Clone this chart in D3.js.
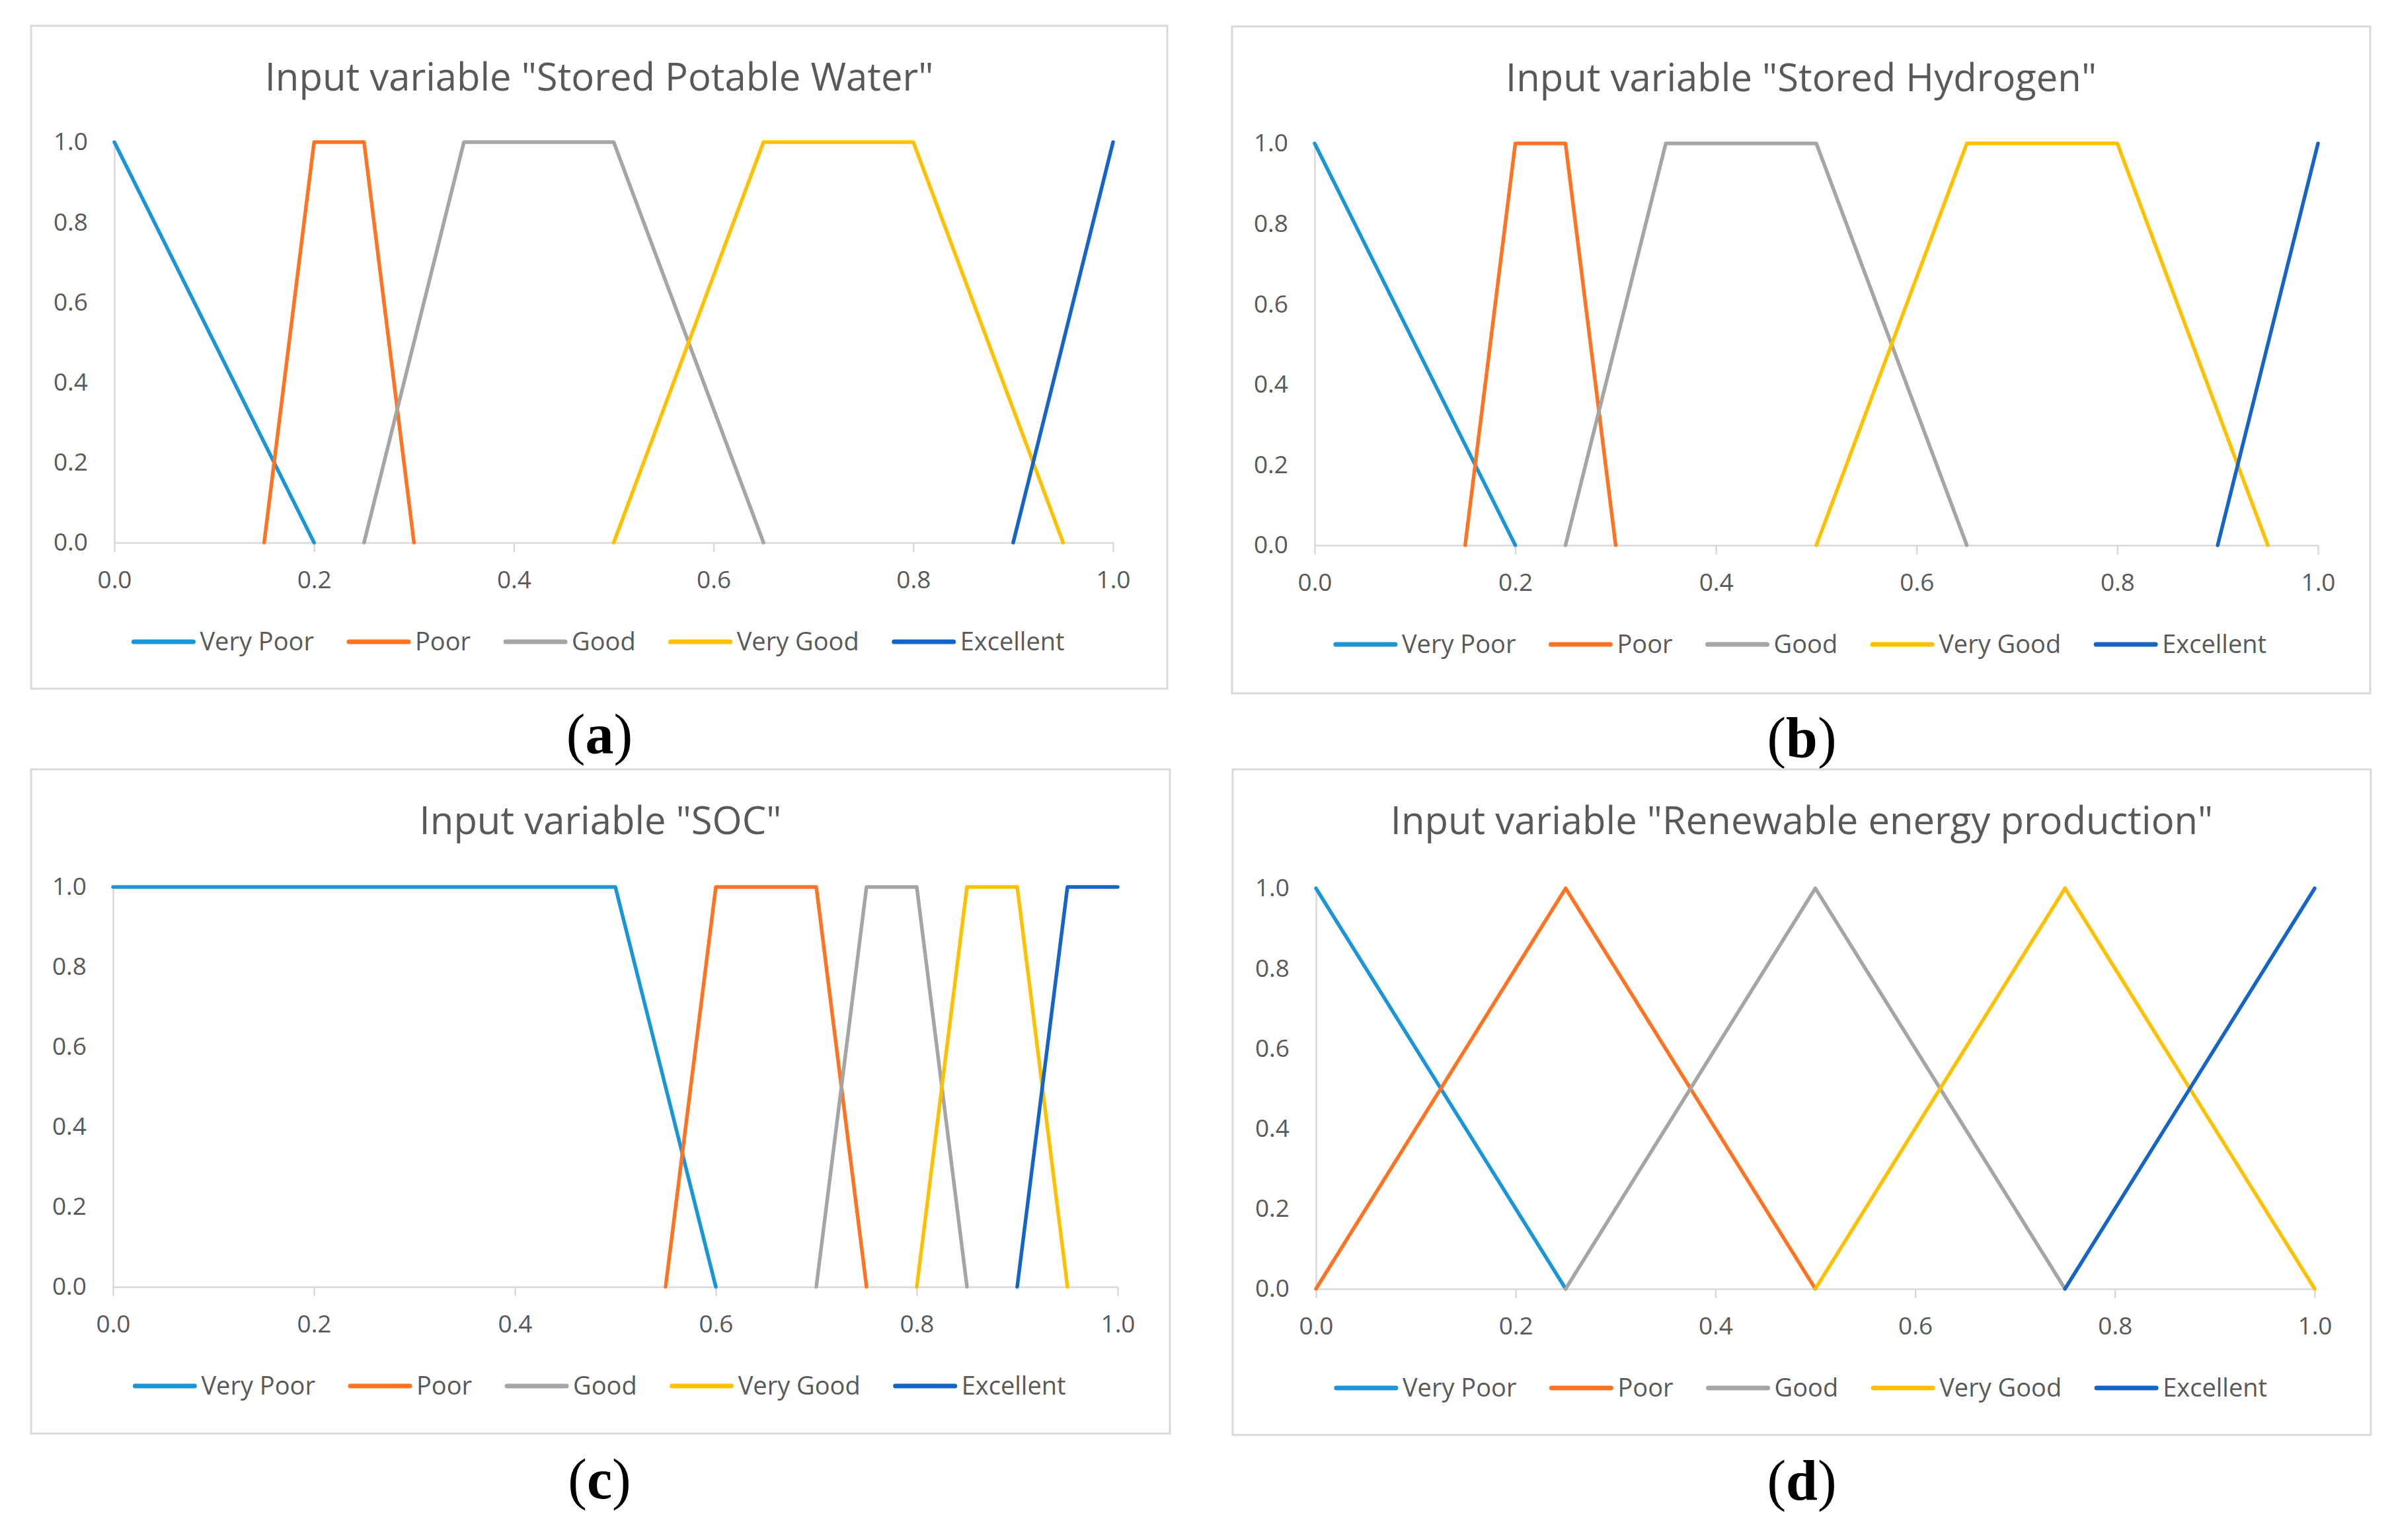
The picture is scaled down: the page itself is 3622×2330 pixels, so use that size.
<!DOCTYPE html>
<html>
<head>
<meta charset="utf-8">
<script src="https://cdn.jsdelivr.net/npm/d3@7"></script>
<style>
  html, body { margin: 0; padding: 0; background: #ffffff; }
  svg { display: block; }
</style>
</head>
<body>
<div id="chart"></div>
<script>
// ---------- data ----------
const seriesNames = ["Very Poor", "Poor", "Good", "Very Good", "Excellent"];
const seriesColors = ["#1a96d8", "#ff7322", "#a5a5a5", "#ffc000", "#1565c6"];
const xTicks = [0.0, 0.2, 0.4, 0.6, 0.8, 1.0];
const yTicks = [0.0, 0.2, 0.4, 0.6, 0.8, 1.0];
const panelTitles = [
  'Input variable "Stored Potable Water"',
  'Input variable "Stored Hydrogen"',
  'Input variable "SOC"',
  'Input variable "Renewable energy production"'
];
const panelLetters = ["a", "b", "c", "d"];

// membership functions: [x, y] pairs per series
const waterSeries = [
  [[0, 1], [0.2, 0]],
  [[0.15, 0], [0.2, 1], [0.25, 1], [0.3, 0]],
  [[0.25, 0], [0.35, 1], [0.5, 1], [0.65, 0]],
  [[0.5, 0], [0.65, 1], [0.8, 1], [0.95, 0]],
  [[0.9, 0], [1, 1]]
];
const hydrogenSeries = [
  [[0, 1], [0.2, 0]],
  [[0.15, 0], [0.2, 1], [0.25, 1], [0.3, 0]],
  [[0.25, 0], [0.35, 1], [0.5, 1], [0.65, 0]],
  [[0.5, 0], [0.65, 1], [0.8, 1], [0.95, 0]],
  [[0.9, 0], [1, 1]]
];
const socSeries = [
  [[0, 1], [0.5, 1], [0.6, 0]],
  [[0.55, 0], [0.6, 1], [0.7, 1], [0.75, 0]],
  [[0.7, 0], [0.75, 1], [0.8, 1], [0.85, 0]],
  [[0.8, 0], [0.85, 1], [0.9, 1], [0.95, 0]],
  [[0.9, 0], [0.95, 1], [1, 1]]
];
const renewableSeries = [
  [[0, 1], [0.25, 0]],
  [[0, 0], [0.25, 1], [0.5, 0]],
  [[0.25, 0], [0.5, 1], [0.75, 0]],
  [[0.5, 0], [0.75, 1], [1, 0]],
  [[0.75, 0], [1, 1]]
];
const panelData = [waterSeries, hydrogenSeries, socSeries, renewableSeries];

// ---------- layout ----------
const W = 3622, H = 2330;
const layout = [
  { fx: 47,   fy: 39,   fw: 1719, fh: 1003, px0: 173,  px1: 1684, py1: 215,  py0: 821,  lx: 907,  ly: 1140 },
  { fx: 1864, fy: 40,   fw: 1722, fh: 1009, px0: 1989, px1: 3507, py1: 217,  py0: 825,  lx: 2726, ly: 1145 },
  { fx: 47,   fy: 1164, fw: 1723, fh: 1005, px0: 171,  px1: 1691, py1: 1342, py0: 1947, lx: 907,  ly: 2267 },
  { fx: 1865, fy: 1164, fw: 1722, fh: 1007, px0: 1991, px1: 3502, py1: 1344, py0: 1950, lx: 2726, ly: 2269 }
];

const FONT = "'Open Sans', 'Noto Sans', sans-serif";
const TEXT_COLOR = "#595959";
const AXIS_COLOR = "#d9d9d9";

const svg = d3.select("#chart").append("svg")
  .attr("width", W).attr("height", H)
  .attr("viewBox", `0 0 ${W} ${H}`);

svg.append("rect").attr("width", W).attr("height", H).attr("fill", "#ffffff");

panelData.forEach((series, i) => {
  const L = layout[i];
  const g = svg.append("g");

  // frame
  g.append("rect")
    .attr("x", L.fx).attr("y", L.fy)
    .attr("width", L.fw).attr("height", L.fh)
    .attr("fill", "#ffffff")
    .attr("stroke", "#d9d9d9").attr("stroke-width", 3);

  const x = d3.scaleLinear().domain([0, 1]).range([L.px0, L.px1]);
  const y = d3.scaleLinear().domain([0, 1]).range([L.py0, L.py1]);

  // title
  g.append("text")
    .attr("x", L.fx + L.fw / 2)
    .attr("y", L.fy + 98)
    .attr("text-anchor", "middle")
    .attr("font-family", FONT)
    .attr("font-size", 58)
    .attr("fill", TEXT_COLOR)
    .text(panelTitles[i]);

  // y axis
  const yAxis = d3.axisLeft(y).tickValues(yTicks).tickSize(0).tickPadding(40)
    .tickFormat(d3.format(".1f"));
  const gy = g.append("g").attr("transform", `translate(${L.px0},0)`).call(yAxis);
  gy.select(".domain").attr("stroke", AXIS_COLOR).attr("stroke-width", 2.5);
  gy.selectAll("text").attr("font-family", FONT).attr("font-size", 37)
    .attr("fill", TEXT_COLOR);

  // x axis
  const xAxis = d3.axisBottom(x).tickValues(xTicks).tickSize(14).tickSizeOuter(0)
    .tickPadding(29).tickFormat(d3.format(".1f"));
  const gx = g.append("g").attr("transform", `translate(0,${L.py0})`).call(xAxis);
  gx.select(".domain").attr("stroke", AXIS_COLOR).attr("stroke-width", 2.5);
  gx.selectAll(".tick line").attr("stroke", AXIS_COLOR).attr("stroke-width", 2.5);
  gx.selectAll("text").attr("font-family", FONT).attr("font-size", 37)
    .attr("fill", TEXT_COLOR);

  // lines
  const line = d3.line().x(d => x(d[0])).y(d => y(d[1]));
  series.forEach((pts, k) => {
    g.append("path")
      .attr("d", line(pts))
      .attr("fill", "none")
      .attr("stroke", seriesColors[k])
      .attr("stroke-width", 5.5)
      .attr("stroke-linejoin", "round")
      .attr("stroke-linecap", "round");
  });

  // legend
  const legY = L.py0 + 150;
  const lg = g.append("g");
  const sampleLen = 90, sampleGap = 10, itemGap = 53;
  let cx = 0;
  seriesNames.forEach((name, k) => {
    const it = lg.append("g").attr("transform", `translate(${cx},0)`);
    it.append("line").attr("x1", 0).attr("x2", sampleLen)
      .attr("y1", 0).attr("y2", 0)
      .attr("stroke", seriesColors[k]).attr("stroke-width", 7)
      .attr("stroke-linecap", "round");
    const t = it.append("text").attr("x", sampleLen + sampleGap).attr("y", 0)
      .attr("dy", "0.35em")
      .attr("font-family", FONT).attr("font-size", 38)
      .attr("fill", TEXT_COLOR).text(name);
    const tw = t.node().getComputedTextLength();
    cx += sampleLen + sampleGap + tw + itemGap;
  });
  const totalW = cx - itemGap;
  lg.attr("transform", `translate(${L.fx + L.fw / 2 - totalW / 2},${legY})`);

  // panel letter label
  const lab = svg.append("text")
    .attr("x", L.lx).attr("y", L.ly)
    .attr("text-anchor", "middle")
    .attr("font-family", "'Liberation Serif', 'Times New Roman', serif")
    .attr("font-size", 86)
    .attr("fill", "#000000");
  lab.append("tspan").text("(");
  lab.append("tspan").attr("font-weight", "bold").text(panelLetters[i]);
  lab.append("tspan").text(")");
});
</script>
</body>
</html>
